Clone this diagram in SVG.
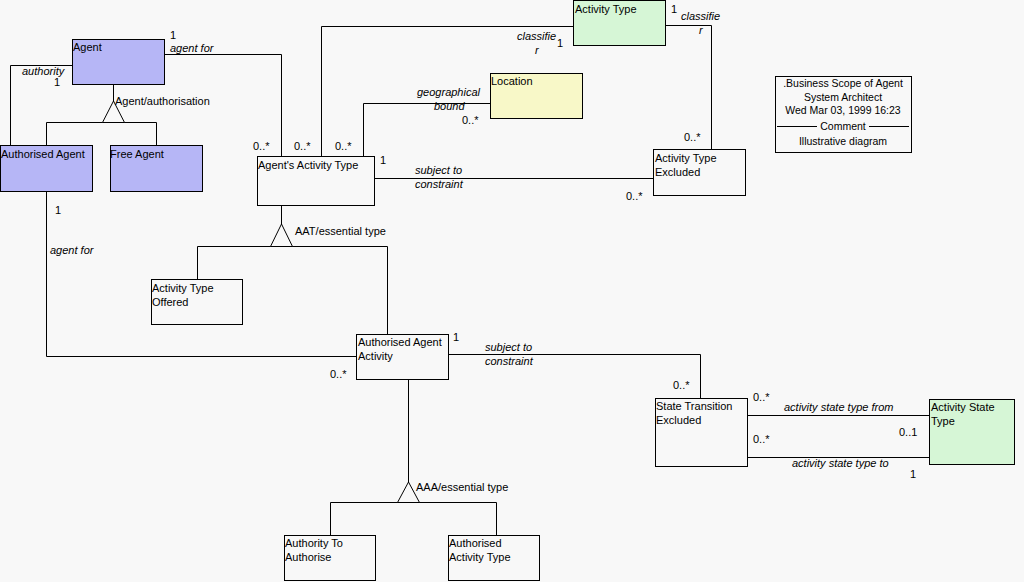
<svg xmlns="http://www.w3.org/2000/svg" width="1024" height="582" viewBox="0 0 1024 582">
<style>
.box{stroke:#000;stroke-width:1}
.w{fill:#f8f8f8}
.b{fill:#b6b6f6}
.g{fill:#d6f6d6}
.y{fill:#f8f8c8}
text{font-family:"Liberation Sans",Arial,sans-serif;font-size:11px;fill:#000}
.i{font-style:italic}
.n{font-size:10.5px;text-anchor:middle}
.c line,.c polyline{stroke:#000;stroke-width:1;fill:none}
.tri{fill:#f8f8f8;stroke:#000;stroke-width:1}
</style>
<rect x="0" y="0" width="1024" height="582" fill="#f8f8f8"/>
<g class="c" id="connectors">
<polyline points="72.5,65.5 10.5,65.5 10.5,145"/>
<polyline points="164,54.5 281.5,54.5 281.5,156"/>
<polyline points="573,26.5 321.5,26.5 321.5,156"/>
<polyline points="665,25.5 711.5,25.5 711.5,149"/>
<polyline points="490,103.5 363.5,103.5 363.5,156"/>
<line x1="374" y1="178.5" x2="653" y2="178.5"/>
<line x1="113.5" y1="84" x2="113.5" y2="102"/>
<polyline points="46.5,145 46.5,122.5 156.5,122.5 156.5,145"/>
<polygon class="tri" points="113.5,101 102.5,122.5 124.5,122.5"/>
<line x1="281.5" y1="205" x2="281.5" y2="225"/>
<polyline points="197.5,279 197.5,246.5 387.5,246.5 387.5,334"/>
<polygon class="tri" points="281.5,224 270.5,246.5 292.5,246.5"/>
<polyline points="46.5,191 46.5,356.5 356,356.5"/>
<polyline points="448,354.5 700.5,354.5 700.5,398"/>
<line x1="408.5" y1="379" x2="408.5" y2="483"/>
<polyline points="330.5,535 330.5,502.5 496.5,502.5 496.5,535"/>
<polygon class="tri" points="408.5,482 397.5,502.5 419.5,502.5"/>
<line x1="748" y1="415.5" x2="929" y2="415.5"/>
<line x1="748" y1="457.5" x2="929" y2="457.5"/>
</g>
<g id="labels">
<text x="170" y="39">1</text>
<text x="170" y="52" class="i">agent for</text>
<text x="22" y="75" class="i">authority</text>
<text x="54" y="86">1</text>
<text x="115" y="105">Agent/authorisation</text>
<text x="253" y="150">0..*</text>
<text x="294" y="150">0..*</text>
<text x="335" y="150">0..*</text>
<text x="517" y="40" class="i">classifie</text>
<text x="535" y="54" class="i">r</text>
<text x="557" y="47">1</text>
<text x="671" y="13">1</text>
<text x="681" y="20" class="i">classifie</text>
<text x="699" y="34" class="i">r</text>
<text x="417" y="96" class="i">geographical</text>
<text x="434" y="110" class="i">bound</text>
<text x="462" y="124">0..*</text>
<text x="684" y="141">0..*</text>
<text x="380" y="164">1</text>
<text x="415" y="174" class="i">subject to</text>
<text x="415" y="188" class="i">constraint</text>
<text x="626" y="200">0..*</text>
<text x="295" y="235">AAT/essential type</text>
<text x="55" y="214">1</text>
<text x="50" y="254" class="i">agent for</text>
<text x="330" y="378">0..*</text>
<text x="453" y="341">1</text>
<text x="485" y="351" class="i">subject to</text>
<text x="485" y="365" class="i">constraint</text>
<text x="673" y="389">0..*</text>
<text x="753" y="401">0..*</text>
<text x="784" y="411" class="i">activity state type from</text>
<text x="899" y="436">0..1</text>
<text x="753" y="443">0..*</text>
<text x="792" y="467" class="i">activity state type to</text>
<text x="910" y="478">1</text>
<text x="416" y="491">AAA/essential type</text>
</g>
<g id="agent"><rect class="box b" x="72.5" y="39.5" width="92" height="45"/><text x="73" y="51">Agent</text></g>
<g id="authorised-agent"><rect class="box b" x="0.5" y="145.5" width="92" height="46"/><text x="1" y="158">Authorised Agent</text></g>
<g id="free-agent"><rect class="box b" x="110.5" y="145.5" width="92" height="46"/><text x="110" y="158">Free Agent</text></g>
<g id="agents-activity-type"><rect class="box w" x="257.5" y="156.5" width="117" height="49"/><text x="258" y="169">Agent's Activity Type</text></g>
<g id="activity-type"><rect class="box g" x="573.5" y="0.5" width="92" height="45"/><text x="575" y="13">Activity Type</text></g>
<g id="location"><rect class="box y" x="490.5" y="73.5" width="92" height="45"/><text x="491" y="85">Location</text></g>
<g id="activity-type-excluded"><rect class="box w" x="653.5" y="149.5" width="92" height="46"/><text x="655" y="162">Activity Type</text><text x="655" y="176">Excluded</text></g>
<g id="note"><rect x="775.5" y="76.5" width="136" height="76" fill="#f8f8f8" stroke="#000"/>
<text class="n" x="843" y="87">.Business Scope of Agent</text>
<text class="n" x="843" y="101">System Architect</text>
<text class="n" x="843" y="114">Wed Mar 03, 1999  16:23</text>
<line x1="777" y1="126.5" x2="817" y2="126.5" stroke="#000"/>
<text class="n" x="843" y="130">Comment</text>
<line x1="869" y1="126.5" x2="909" y2="126.5" stroke="#000"/>
<text class="n" x="843" y="145">Illustrative diagram</text>
</g>
<g id="activity-type-offered"><rect class="box w" x="151.5" y="279.5" width="91" height="45"/><text x="152" y="292">Activity Type</text><text x="152" y="306">Offered</text></g>
<g id="authorised-agent-activity"><rect class="box w" x="356.5" y="334.5" width="92" height="45"/><text x="358" y="346">Authorised Agent</text><text x="358" y="360">Activity</text></g>
<g id="state-transition-excluded"><rect class="box w" x="655.5" y="398.5" width="92" height="68"/><text x="656" y="410">State Transition</text><text x="656" y="424">Excluded</text></g>
<g id="activity-state-type"><rect class="box g" x="929.5" y="399.5" width="85" height="65"/><text x="931" y="411">Activity State</text><text x="931" y="425">Type</text></g>
<g id="authority-to-authorise"><rect class="box w" x="284.5" y="535.5" width="91" height="45"/><text x="285" y="547">Authority To</text><text x="285" y="561">Authorise</text></g>
<g id="authorised-activity-type"><rect class="box w" x="448.5" y="535.5" width="91" height="45"/><text x="449" y="547">Authorised</text><text x="449" y="561">Activity Type</text></g>
</svg>
